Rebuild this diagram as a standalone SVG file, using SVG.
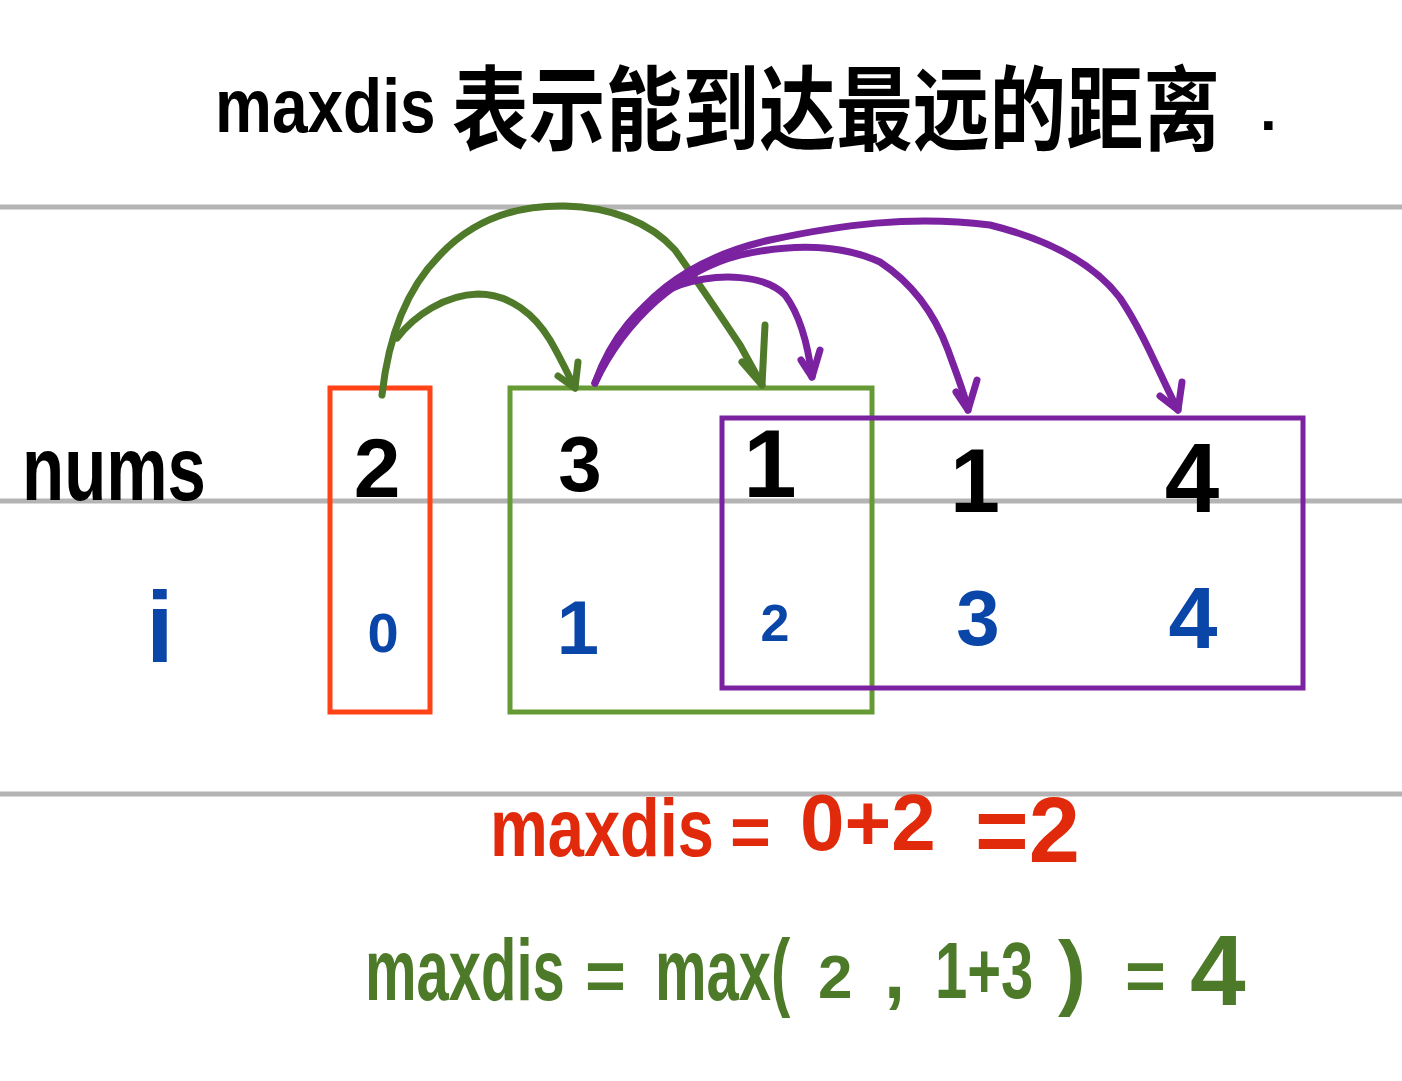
<svg xmlns="http://www.w3.org/2000/svg" width="1402" height="1081" viewBox="0 0 1402 1081">
<style>
.rule{stroke:#b4b4b4;stroke-width:5;fill:none}
.hw{font-family:"Liberation Sans","Noto Sans CJK SC",sans-serif;font-weight:700}
.blk{fill:#000}
.blu{fill:#0a45a8}
.red{fill:#e12a0c}
.grn{fill:#4c7a28}
.box{fill:none;stroke-width:5}
.arrG{fill:none;stroke:#4f7a2a;stroke-width:7;stroke-linecap:round;stroke-linejoin:round}
.arrP{fill:none;stroke:#7a22a0;stroke-width:7;stroke-linecap:round;stroke-linejoin:round}
</style>
<rect width="1402" height="1081" fill="#fff"/>
<g id="rules">
<line class="rule" x1="0" y1="207" x2="1402" y2="207"/>
<line class="rule" x1="0" y1="501" x2="1402" y2="501"/>
<line class="rule" x1="0" y1="794" x2="1402" y2="794"/>
</g>
<g id="title">
<text class="hw blk" font-size="64" transform="translate(215,132) scale(1,1.2)">maxdis</text>
<text class="hw blk" x="452" y="143" font-size="80" textLength="768" lengthAdjust="spacingAndGlyphs" transform="scale(1,1.15)" transform-origin="452 143">表示能到达最远的距离</text>
<text class="hw blk" x="1260" y="130" font-size="60">.</text>
</g>
<g id="labels">
<text class="hw blk" font-size="69" transform="translate(22,500) scale(1,1.33)">nums</text>
<text class="hw blu" x="160" y="662" font-size="100" text-anchor="middle">i</text>
</g>
<g id="boxes">
<rect id="box-red" class="box" x="330" y="388" width="100" height="324" stroke="#ff4316"/>
<rect id="box-green" class="box" x="510" y="388" width="362" height="324" stroke="#659a35"/>
<rect id="box-purple" class="box" x="722" y="418" width="581" height="270" stroke="#7a22a0"/>
</g>
<g id="cell0">
<text class="hw blk" x="377" y="497" font-size="84" text-anchor="middle">2</text>
<text class="hw blu" x="383" y="652" font-size="56" text-anchor="middle">0</text>
</g>
<g id="cell1">
<text class="hw blk" x="580" y="491" font-size="78" text-anchor="middle">3</text>
<text class="hw blu" x="578" y="654" font-size="76" text-anchor="middle">1</text>
</g>
<g id="cell2">
<text class="hw blk" x="770" y="497" font-size="96" text-anchor="middle">1</text>
<text class="hw blu" x="775" y="641" font-size="52" text-anchor="middle">2</text>
</g>
<g id="cell3">
<text class="hw blk" x="975" y="512" font-size="90" text-anchor="middle">1</text>
<text class="hw blu" x="978" y="645" font-size="78" text-anchor="middle">3</text>
</g>
<g id="cell4">
<text class="hw blk" x="1192" y="512" font-size="98" text-anchor="middle">4</text>
<text class="hw blu" x="1193" y="648" font-size="88" text-anchor="middle">4</text>
</g>
<g id="connectors">
<path class="arrG" d="M382,395 C388,340 405,290 440,255 C475,218 520,205 565,206 C610,207 650,222 675,250 C700,285 720,315 740,345 L762,385"/>
<path class="arrG" d="M765,325 L762,385 L742,362"/>
<path class="arrG" d="M397,338 C415,315 445,295 478,294 C510,294 535,315 550,340 C560,357 567,372 575,388"/>
<path class="arrG" d="M578,362 L575,388 L558,376"/>
<path class="arrP" d="M595,383 C610,340 640,300 680,285 C720,272 765,275 785,295 C800,315 808,345 812,377"/>
<path class="arrP" d="M801,360 L812,377 L820,350"/>
<path class="arrP" d="M595,383 C625,320 680,270 740,255 C790,244 840,244 880,262 C915,285 935,315 948,350 C958,378 965,395 968,410"/>
<path class="arrP" d="M956,392 L968,410 L977,380"/>
<path class="arrP" d="M595,383 C630,300 690,258 770,240 C840,225 910,215 990,225 C1050,240 1095,265 1120,298 C1145,335 1162,380 1178,410"/>
<path class="arrP" d="M1160,396 L1178,410 L1182,382"/>
</g>
<g id="eq1">
<text class="hw red" font-size="65" transform="translate(490,856) scale(1,1.25)">maxdis</text>
<text class="hw red" x="730" y="856" font-size="70">=</text>
<text class="hw red" x="800" y="850" font-size="80">0+2</text>
<text class="hw red" x="975" y="862" font-size="92">=2</text>
</g>
<g id="eq2">
<text class="hw grn" font-size="58" transform="translate(365,1000) scale(1,1.5)">maxdis</text>
<text class="hw grn" x="585" y="1000" font-size="70">=</text>
<text class="hw grn" font-size="58" transform="translate(655,1000) scale(1,1.5)">max(</text>
<text class="hw grn" x="818" y="998" font-size="62">2</text>
<text class="hw grn" x="884" y="998" font-size="76">,</text>
<text class="hw grn" font-size="58" transform="translate(935,998) scale(1,1.38)">1+3</text>
<text class="hw grn" x="1058" y="1000" font-size="84">)</text>
<text class="hw grn" x="1125" y="1000" font-size="70">=</text>
<text class="hw grn" x="1190" y="1005" font-size="100">4</text>
</g>
</svg>
